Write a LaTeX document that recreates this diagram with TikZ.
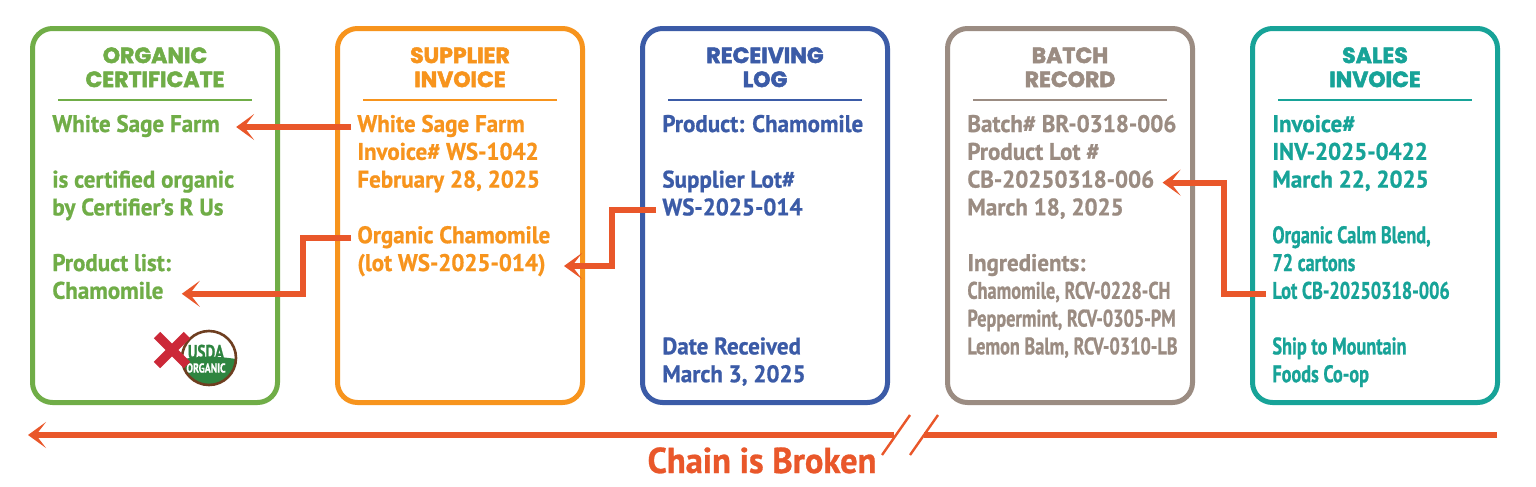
\documentclass[tikz,border=0pt]{standalone}
\usepackage{fontspec}
\setmainfont[FakeBold=0.8, FakeStretch=0.96]{PT Sans}
\newfontfamily\titlefont[FakeBold=2.2]{Poppins}
\newfontfamily\condfont[FakeStretch=0.76, FakeBold=0.8]{PT Sans}
\usepackage{tikz}
\usetikzlibrary{arrows.meta}

\definecolor{certgreen}{RGB}{112,173,71}
\definecolor{suporange}{RGB}{247,148,29}
\definecolor{rcvblue}{RGB}{59,91,167}
\definecolor{batchbrown}{RGB}{155,140,130}
\definecolor{salesteal}{RGB}{23,163,152}
\definecolor{linkred}{RGB}{233,87,42}
\definecolor{usdagreen}{RGB}{46,133,64}
\definecolor{usdabrown}{RGB}{110,62,32}
\definecolor{xred}{RGB}{204,40,56}

\newcommand{\cond}{\condfont\bfseries}

\begin{document}
\begin{tikzpicture}[x=0.5pt, y=-0.5pt,
    doc/.style={rectangle, rounded corners=10pt, line width=2.5pt, minimum width=122.5pt, minimum height=187pt, inner sep=0pt},
    title/.style={anchor=north, align=center, inner sep=0pt, font=\titlefont\bfseries\fontsize{11}{12}\selectfont},
    entry/.style={anchor=base west, inner sep=0pt, font=\bfseries\fontsize{12}{14}\selectfont},
    link/.style={draw=linkred, line width=3pt, -{Stealth[length=9pt, width=13pt, inset=5pt]}},
    chain/.style={draw=linkred, line width=3pt},
    slash/.style={draw=linkred, line width=1.2pt}]

    \fill[white] (0,0) rectangle (1536,487);
    \useasboundingbox (0,0) rectangle (1536,487);

    % document cards
    \foreach \name/\col/\cx/\ttl in {cert/certgreen/155/{ORGANIC\\CERTIFICATE},
        sup/suporange/460/{SUPPLIER\\INVOICE}, rcv/rcvblue/765/{RECEIVING\\LOG},
        batch/batchbrown/1070/{BATCH\\RECORD}, sales/salesteal/1375/{SALES\\INVOICE}} {
      \node[doc, draw=\col] (\name) at (\cx,215.5) {};
      \node[title, text=\col] (\name-title) at (\cx,47) {\ttl};
      \draw[\col, line width=1pt] (\cx-97,100) -- (\cx+97,100);
    }

    % card lines
    \foreach \k/\txt in {0/White Sage Farm, 2/is certified organic, 3/{by Certifier’s R Us},
        5/Product list:, 6/Chamomile}
      \node[entry, text=certgreen] (cert-\k) at (52,{132+27.8*\k}) {\txt};
    \foreach \k/\txt in {0/White Sage Farm, 1/Invoice\# WS-1042, 2/{February 28, 2025},
        4/Organic Chamomile, 5/{(lot WS-2025-014)}}
      \node[entry, text=suporange] (sup-\k) at (357,{132+27.8*\k}) {\txt};
    \foreach \k/\txt in {0/Product: Chamomile, 2/Supplier Lot\#, 3/WS-2025-014,
        8/Date Received, 9/{March 3, 2025}}
      \node[entry, text=rcvblue] (rcv-\k) at (662,{132+27.8*\k}) {\txt};
    \foreach \k/\txt in {0/Batch\# BR-0318-006, 1/Product Lot \#, 2/CB-20250318-006,
        3/{March 18, 2025}, 5/Ingredients:, 6/{\cond Chamomile, RCV-0228-CH},
        7/{\cond Peppermint, RCV-0305-PM}, 8/{\cond Lemon Balm, RCV-0310-LB}}
      \node[entry, text=batchbrown] (batch-\k) at (967,{132+27.8*\k}) {\txt};
    \foreach \k/\txt in {0/Invoice\#, 1/INV-2025-0422, 2/{March 22, 2025},
        4/{\cond Organic Calm Blend,}, 5/{\cond 72 cartons}, 6/{\cond Lot CB-20250318-006},
        8/{\cond Ship to Mountain}, 9/{\cond Foods Co-op}}
      \node[entry, text=salesteal] (sales-\k) at (1272,{132+27.8*\k}) {\txt};

    % usda seal, crossed out
    \fill[white] (209,358) circle (27);
    \begin{scope}
      \clip (209,358) circle (27);
      \fill[usdagreen] (170,361) .. controls (209,355) .. (250,361) -- (250,390) -- (170,390) -- cycle;
    \end{scope}
    \draw[usdabrown, line width=1.3pt] (209,358) circle (27);
    \node[text=usdagreen, font=\cond\fontsize{10}{10}\selectfont] (usda-top) at (206,352) {USDA};
    \node[text=white, font=\condfont\bfseries\fontsize{6.5}{7}\selectfont] (usda-bottom) at (206,368) {ORGANIC};
    \draw[xred, line width=4.5pt] (157,335) -- (187,365) (157,365) -- (187,335);

    % trace links
    \draw[link] ([xshift=-3pt]sup-0.mid west) -- ([xshift=8pt]cert-0.mid east);
    \draw[link] ([xshift=-3pt]sup-4.mid west) -- ++(-48,0) |- ([xshift=9pt]cert-6.mid east);
    \draw[link] ([xshift=-3pt]rcv-3.mid west) -- ++(-44,0) |- ([xshift=9pt]sup-5.mid east);
    \draw[link] ([xshift=-3pt]sales-6.mid west) -- ++(-42,0) |- ([xshift=4pt]batch-2.mid east);

    % broken chain
    \coordinate (chain-start) at (1497,435);
    \coordinate (chain-tip) at (28,435);
    \coordinate (break-right) at (924,435);
    \coordinate (break-left) at (894,435);
    \draw[chain] (chain-start) -- (break-right);
    \draw[link] (break-left) -- (chain-tip);
    \draw[slash] ([shift={(16,-20)}]break-left) -- ++(-28,40);
    \draw[slash] ([shift={(14,-20)}]break-right) -- ++(-28,40);
    \node[anchor=base, text=linkred, font=\bfseries\fontsize{18}{20}\selectfont] (broken) at (762,473) {Chain is Broken};
\end{tikzpicture}
\end{document}
